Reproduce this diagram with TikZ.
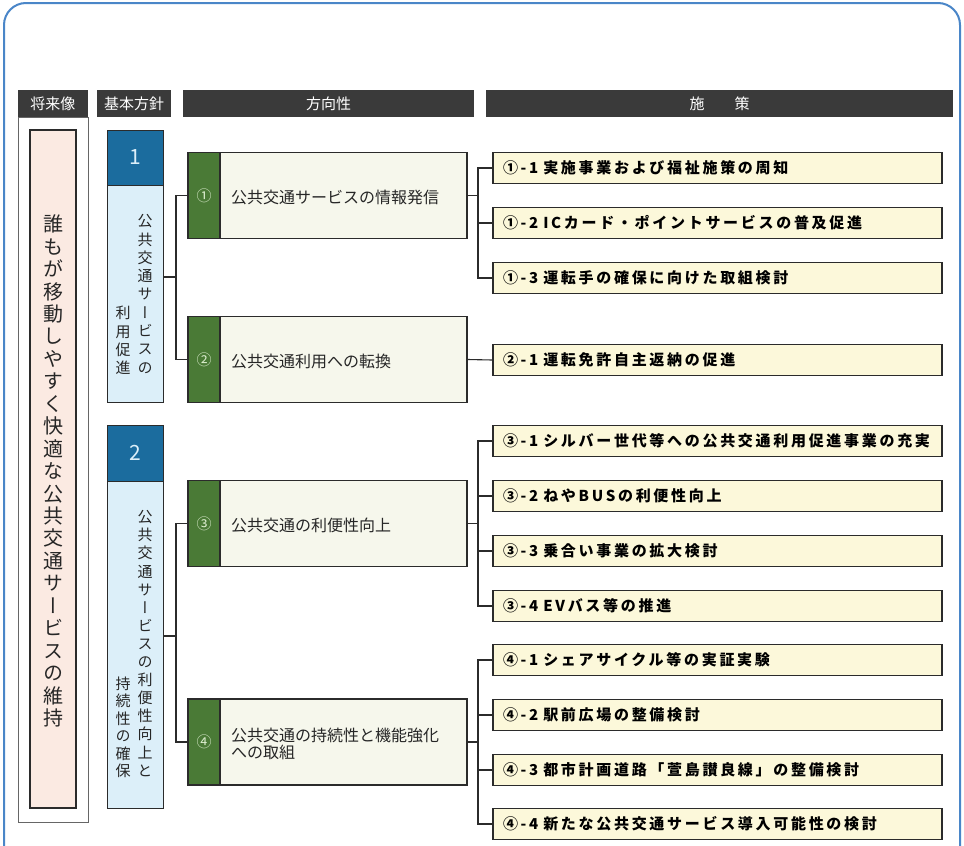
\documentclass[tikz,border=0pt]{standalone}
\usepackage{fontspec}
\setmainfont{Noto Sans CJK JP}
\definecolor{framec}{HTML}{4A86C8}
\definecolor{headc}{HTML}{3A3A3A}
\definecolor{pinkc}{HTML}{FBEAE2}
\definecolor{dblue}{HTML}{1B6C9E}
\definecolor{lblue}{HTML}{DCEFF9}
\definecolor{greenc}{HTML}{4A7A36}
\definecolor{dirfill}{HTML}{F6F7EC}
\definecolor{itemfill}{HTML}{FCF8DA}
\definecolor{edgec}{HTML}{2B2B2B}
\definecolor{numlight}{HTML}{DDEED0}
\tikzset{
  headbar/.style={fill=headc, draw=none, text=white, minimum height=27pt, inner sep=0pt,
    font=\fontsize{15}{18}\selectfont},
  vtxt/.style={align=center, inner sep=0pt, text=black!85},
  bluenum/.style={fill=dblue, draw=edgec, line width=1pt, minimum width=56pt, inner sep=0pt,
    text=lblue, font=\fontsize{21}{24}\selectfont},
  bluebody/.style={fill=lblue, draw=edgec, line width=1pt, minimum width=56pt, inner sep=0pt},
  dirbox/.style={fill=dirfill, draw=edgec, line width=1.2pt, minimum width=279pt, minimum height=86pt, inner sep=0pt},
  dirstrip/.style={fill=greenc, draw=edgec, line width=1.2pt, minimum width=32pt, minimum height=86pt, inner sep=0pt,
    text=numlight, font=\fontsize{15}{18}\selectfont},
  dirtext/.style={anchor=west, align=left, inner sep=0pt, text=black!85,
    font=\fontsize{16}{17}\selectfont},
  item/.style={fill=itemfill, draw=edgec, line width=1.4pt, minimum width=449pt, minimum height=31pt,
    text width=429pt, align=left, inner xsep=10pt, inner ysep=0pt,
    font=\bfseries\fontsize{15}{18}\selectfont\addfontfeature{LetterSpace=18}},
  conn/.style={draw=edgec, line width=1.1pt}
}
\begin{document}
\begin{tikzpicture}[x=1pt,y=-1pt]
\useasboundingbox (0,0) rectangle (964,846);
% outer frame
\draw[framec, line width=2pt, rounded corners=22pt] (4,846) -- (4,3) -- (960,3) -- (960,846);

% column 1: future vision
\node[draw=black!60, line width=0.8pt, fill=white, minimum width=70pt, minimum height=705pt, inner sep=0pt] (vout) at (53,469.5) {};
\node[headbar, minimum width=70pt] (h1) at (53,103.5) {将来像};
\node[fill=pinkc, draw=edgec, line width=1.2pt, minimum width=46pt, minimum height=678pt, inner sep=0pt] (vin) at (53,469) {};
\node[vtxt, font=\fontsize{20}{22.45}\selectfont\addfontfeature{RawFeature=+vert}] (vis) at (53,471)
  {誰\\も\\が\\移\\動\\し\\や\\す\\く\\快\\適\\な\\公\\共\\交\\通\\サ\\ー\\ビ\\ス\\の\\維\\持};

% column 2: basic policies
\node[headbar, minimum width=74pt] (h2) at (134,103.5) {基本方針};
\node[bluebody, minimum height=217pt] (b1body) at (135,293.5) {};
\node[bluenum, minimum height=55pt] (b1num) at (135,157.5) {1};
\node[vtxt, font=\fontsize{15}{18.3}\selectfont\addfontfeature{RawFeature=+vert}] (b1r) at (145,294)
  {公\\共\\交\\通\\サ\\ー\\ビ\\ス\\の};
\node[vtxt, font=\fontsize{15}{18.3}\selectfont\addfontfeature{RawFeature=+vert}] (b1l) at (123,340.5)
  {利\\用\\促\\進};

\node[bluebody, minimum height=327pt] (b2body) at (135,644.5) {};
\node[bluenum, minimum height=56pt] (b2num) at (135,453) {2};
\node[vtxt, font=\fontsize{15}{18.1}\selectfont\addfontfeature{RawFeature=+vert}] (b2r) at (145,643.5)
  {公\\共\\交\\通\\サ\\ー\\ビ\\ス\\の\\利\\便\\性\\向\\上\\と};
\node[vtxt, font=\fontsize{15}{17.5}\selectfont\addfontfeature{RawFeature=+vert}] (b2l) at (123,727.5)
  {持\\続\\性\\の\\確\\保};

% column 3: directions
\node[headbar, minimum width=291pt] (h3) at (328.5,103.5) {方向性};
\node[dirbox] (d1) at (327.5,195.5) {};
\node[dirstrip] (d1n) at (204,195.5) {①};
\node[dirtext] (d1t) at (231,197) {公共交通サービスの情報発信};

\node[dirbox] (d2) at (327.5,359.5) {};
\node[dirstrip] (d2n) at (204,359.5) {②};
\node[dirtext] (d2t) at (231,361) {公共交通利用への転換};

\node[dirbox] (d3) at (327.5,523.5) {};
\node[dirstrip] (d3n) at (204,523.5) {③};
\node[dirtext] (d3t) at (231,525) {公共交通の利便性向上};

\node[dirbox] (d4) at (327.5,742) {};
\node[dirstrip] (d4n) at (204,742) {④};
\node[dirtext] (d4t) at (231,744) {公共交通の持続性と機能強化\\への取組};

% column 4: measures
\node[headbar, minimum width=467pt] (h4) at (719.5,103.5) {施\hspace{30pt}策};
\node[item] (i11) at (717.5,168) {①-1 実施事業および福祉施策の周知};
\node[item] (i12) at (717.5,223) {①-2 ICカード・ポイントサービスの普及促進};
\node[item] (i13) at (717.5,278) {①-3 運転手の確保に向けた取組検討};
\node[item] (i21) at (717.5,360) {②-1 運転免許自主返納の促進};
\node[item] (i31) at (717.5,441) {③-1 シルバー世代等への公共交通利用促進事業の充実};
\node[item] (i32) at (717.5,496) {③-2 ねやBUSの利便性向上};
\node[item] (i33) at (717.5,551) {③-3 乗合い事業の拡大検討};
\node[item] (i34) at (717.5,606) {③-4 EVバス等の推進};
\node[item] (i41) at (717.5,660) {④-1 シェアサイクル等の実証実験};
\node[item] (i42) at (717.5,715) {④-2 駅前広場の整備検討};
\node[item] (i43) at (717.5,770) {④-3 都市計画道路「萱島讃良線」の整備検討};
\node[item] (i44) at (717.5,824) {④-4 新たな公共交通サービス導入可能性の検討};

% connectors: policies -> directions
\coordinate (j1) at (176,277);
\coordinate (j2) at (176,636);
\draw[conn] (b1body.east |- j1) -- (j1);
\draw[conn] (d1.west) -- (d1.west -| j1) -- (d2.west -| j1) -- (d2.west);
\draw[conn] (b2body.east |- j2) -- (j2);
\draw[conn] (d3.west) -- (d3.west -| j2) -- (d4.west -| j2) -- (d4.west);

% connectors: directions -> measures
\coordinate (r) at (478,0);
\draw[conn] (d1.east) -- (d1.east -| r);
\draw[conn] (i11.west) -- (i11.west -| r) -- (i13.west -| r) -- (i13.west);
\draw[conn] (i12.west -| r) -- (i12.west);
\draw[conn] (d2.east) -- (i21.west);
\draw[conn] (d3.east) -- (d3.east -| r);
\draw[conn] (i31.west) -- (i31.west -| r) -- (i34.west -| r) -- (i34.west);
\draw[conn] (i32.west -| r) -- (i32.west);
\draw[conn] (i33.west -| r) -- (i33.west);
\draw[conn] (d4.east) -- (d4.east -| r);
\draw[conn] (i41.west) -- (i41.west -| r) -- (i44.west -| r) -- (i44.west);
\draw[conn] (i42.west -| r) -- (i42.west);
\draw[conn] (i43.west -| r) -- (i43.west);
\end{tikzpicture}
\end{document}
